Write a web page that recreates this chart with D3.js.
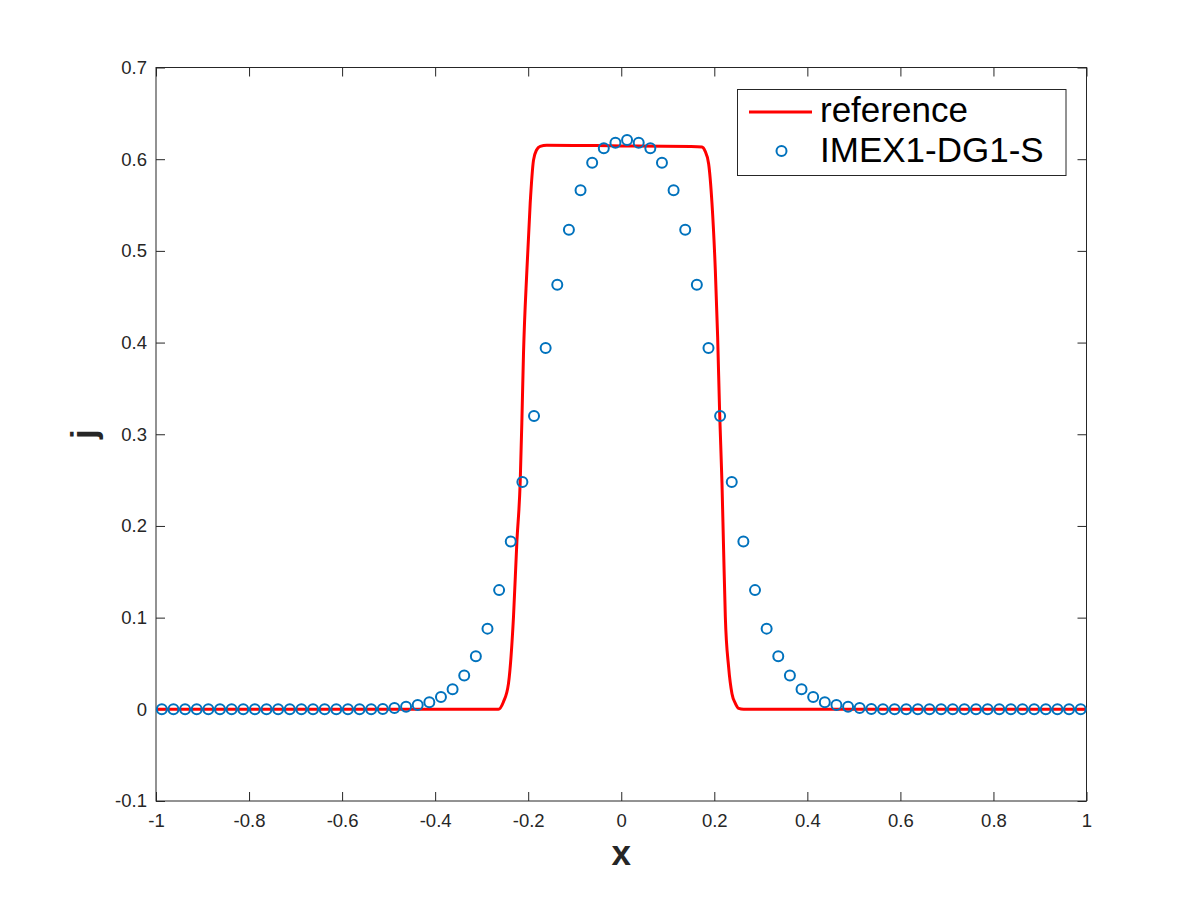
<!DOCTYPE html>
<html>
<head>
<meta charset="utf-8">
<script src="https://cdn.jsdelivr.net/npm/d3@7"></script>
<style>
  body { margin: 0; background: #fff; }
  svg { display: block; }
</style>
</head>
<body>
<svg id="graph" width="1200" height="900"></svg>
<script>
// reference solution (red line)
var refX = [-1, -0.28, -0.264, -0.2533, -0.2424, -0.2316, -0.2243, -0.2172, -0.2135, -0.2101,
    -0.2028, -0.1957, -0.1886, -0.182, -0.1742, -0.16, 0, 0.15, 0.1735, 0.18, 0.1878, 0.195,
    0.2022, 0.2072, 0.2115, 0.2165, 0.22, 0.2237, 0.2308, 0.238, 0.2452, 0.2523, 0.263, 0.28, 1];
var refY = [0, 0, 0, 0.008, 0.028, 0.101, 0.183, 0.248, 0.316, 0.388,
    0.479, 0.552, 0.599, 0.610, 0.614, 0.6153, 0.6145, 0.6138, 0.6132, 0.609, 0.595, 0.552,
    0.479, 0.406, 0.323, 0.247, 0.174, 0.101, 0.046, 0.017, 0.0065, 0.001, 0, 0, 0];

// IMEX1-DG1-S cell values (circles)
var numX = [-0.9875, -0.9625, -0.9375, -0.9125, -0.8875, -0.8625, -0.8375, -0.8125, -0.7875, -0.7625,
    -0.7375, -0.7125, -0.6875, -0.6625, -0.6375, -0.6125, -0.5875, -0.5625, -0.5375, -0.5125,
    -0.4875, -0.4625, -0.4375, -0.4125, -0.3875, -0.3625, -0.3375, -0.3125, -0.2875, -0.2625,
    -0.2375, -0.2125, -0.1875, -0.1625, -0.1375, -0.1125, -0.0875, -0.0625, -0.0375, -0.0125,
    0.0125, 0.0375, 0.0625, 0.0875, 0.1125, 0.1375, 0.1625, 0.1875, 0.2125, 0.2375,
    0.2625, 0.2875, 0.3125, 0.3375, 0.3625, 0.3875, 0.4125, 0.4375, 0.4625, 0.4875,
    0.5125, 0.5375, 0.5625, 0.5875, 0.6125, 0.6375, 0.6625, 0.6875, 0.7125, 0.7375,
    0.7625, 0.7875, 0.8125, 0.8375, 0.8625, 0.8875, 0.9125, 0.9375, 0.9625, 0.9875];
var numY = [0, 0, 0, 0, 0, 0, 0, 0, 0, 0,
    0, 0, 0, 0, 0, 0, 0, 0, 0.0001, 0.0003,
    0.0014, 0.0028, 0.0047, 0.0076, 0.0134, 0.022, 0.037, 0.058, 0.088, 0.130,
    0.183, 0.248, 0.320, 0.394, 0.463, 0.523, 0.566, 0.596, 0.612, 0.618,
    0.621, 0.618, 0.612, 0.596, 0.566, 0.523, 0.463, 0.394, 0.320, 0.248,
    0.183, 0.130, 0.088, 0.058, 0.037, 0.022, 0.0134, 0.0076, 0.0047, 0.0028,
    0.0014, 0.0003, 0.0001, 0, 0, 0, 0, 0, 0, 0,
    0, 0, 0, 0, 0, 0, 0, 0, 0, 0];

var xTicks = [-1, -0.8, -0.6, -0.4, -0.2, 0, 0.2, 0.4, 0.6, 0.8, 1];
var yTicks = [-0.1, 0, 0.1, 0.2, 0.3, 0.4, 0.5, 0.6, 0.7];
var seriesNames = ["reference", "IMEX1-DG1-S"];

var mLeft = 156, mRight = 1086.5, mTop = 67.5, mBottom = 801;
var axisColor = "#262626";
var font = "'Liberation Sans', Arial, Helvetica, sans-serif";

var svg = d3.select("#graph");

var x = d3.scaleLinear().domain([-1, 1]).range([mLeft, mRight]);
var y = d3.scaleLinear().domain([-0.1, 0.7]).range([mBottom, mTop]);

// MATLAB style labels: plain hyphen minus, no trailing zeros
var fmt = function(d) { return String(+d.toFixed(1)); };

svg.append("defs").append("clipPath").attr("id", "clip")
    .append("rect").attr("x", mLeft).attr("y", mTop)
    .attr("width", mRight - mLeft).attr("height", mBottom - mTop);

function styleAxis(g) {
    g.select(".domain").remove();
    g.selectAll(".tick line").attr("stroke", axisColor).attr("stroke-width", 1);
    g.selectAll(".tick text").attr("fill", axisColor)
        .style("font-family", font).style("font-size", "18.5px");
}

svg.append("g").attr("transform", "translate(0," + mBottom + ")")
    .call(d3.axisBottom(x).tickValues(xTicks).tickFormat(fmt).tickSizeInner(-9).tickPadding(13))
    .call(styleAxis);
svg.append("g").attr("transform", "translate(0," + mTop + ")")
    .call(d3.axisTop(x).tickValues(xTicks).tickFormat("").tickSizeInner(-9))
    .call(styleAxis);
svg.append("g").attr("transform", "translate(" + mLeft + ",0)")
    .call(d3.axisLeft(y).tickValues(yTicks).tickFormat(fmt).tickSizeInner(-9).tickPadding(9))
    .call(styleAxis);
svg.append("g").attr("transform", "translate(" + mRight + ",0)")
    .call(d3.axisRight(y).tickValues(yTicks).tickFormat("").tickSizeInner(-9))
    .call(styleAxis);

svg.append("rect")
    .attr("x", mLeft).attr("y", mTop)
    .attr("width", mRight - mLeft).attr("height", mBottom - mTop)
    .attr("fill", "none").attr("stroke", axisColor).attr("stroke-width", 1);

// reference line
var line = d3.line()
    .x(function(d) { return x(d[0]); })
    .y(function(d) { return y(d[1]); })
    .curve(d3.curveMonotoneX);

svg.append("path")
    .datum(refX.map(function(v, i) { return [v, refY[i]]; }))
    .attr("clip-path", "url(#clip)")
    .attr("d", line)
    .attr("fill", "none")
    .attr("stroke", "#ff0000")
    .attr("stroke-width", 3);

// numerical circles
svg.append("g").selectAll("circle")
    .data(numX.map(function(v, i) { return [v, numY[i]]; }))
    .enter()
    .append("circle")
    .attr("cx", function(d) { return x(d[0]); })
    .attr("cy", function(d) { return y(d[1]); })
    .attr("r", 5)
    .attr("fill", "none")
    .attr("stroke", "#0072BD")
    .attr("stroke-width", 2);

// axis labels
svg.append("text")
    .attr("x", (mLeft + mRight) / 2).attr("y", 865)
    .attr("text-anchor", "middle")
    .attr("fill", axisColor)
    .style("font-family", font).style("font-size", "35px").style("font-weight", "bold")
    .text("x");

svg.append("text")
    .attr("transform", "translate(96," + (mTop + mBottom) / 2 + ") rotate(-90)")
    .attr("text-anchor", "middle")
    .attr("fill", axisColor)
    .style("font-family", font).style("font-size", "35px").style("font-weight", "bold")
    .text("j");

// legend
var lg = svg.append("g");
lg.append("rect")
    .attr("x", 737.5).attr("y", 89.5).attr("width", 328.5).attr("height", 86)
    .attr("fill", "#fff").attr("stroke", axisColor).attr("stroke-width", 1);
lg.append("line")
    .attr("x1", 749).attr("x2", 812).attr("y1", 112).attr("y2", 112)
    .attr("stroke", "#ff0000").attr("stroke-width", 3);
lg.append("circle")
    .attr("cx", 781.5).attr("cy", 151).attr("r", 5)
    .attr("fill", "none").attr("stroke", "#0072BD").attr("stroke-width", 2);
lg.selectAll("text.leg")
    .data(seriesNames)
    .enter()
    .append("text")
    .attr("class", "leg")
    .attr("x", 820)
    .attr("y", function(d, i) { return 122 + i * 40; })
    .attr("fill", "#000")
    .style("font-family", font).style("font-size", "35px")
    .text(function(d) { return d; });
</script>
</body>
</html>
